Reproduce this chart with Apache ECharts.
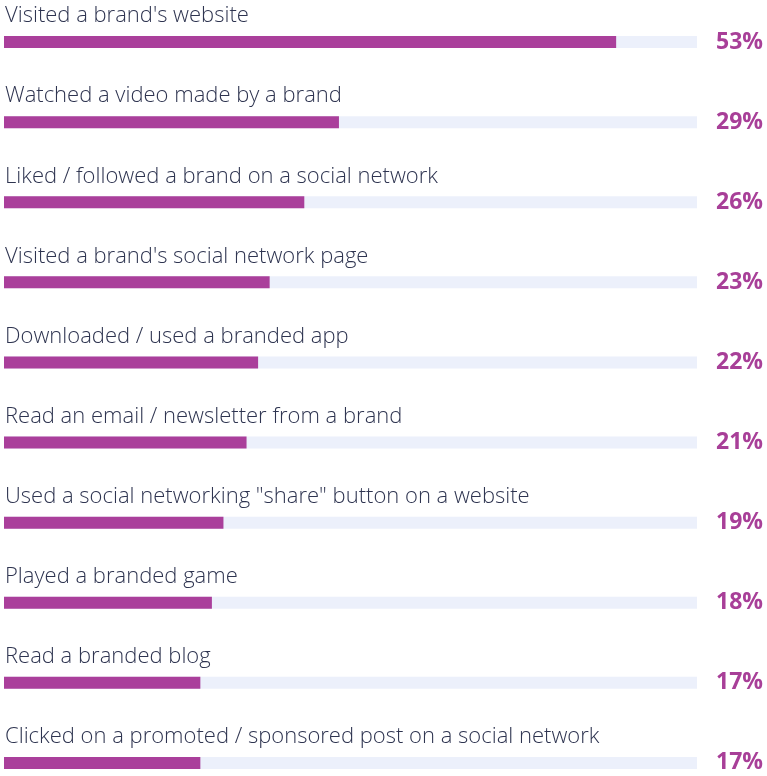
<!DOCTYPE html>
<html><head><meta charset="utf-8">
<style>html,body{margin:0;padding:0;background:#fff}#c{width:767px;height:776px}</style>
<script src="https://cdn.jsdelivr.net/npm/echarts@6/dist/echarts.min.js"></script>
</head><body><div id="c"></div>
<script>
const categories = [
  "Visited a brand's website",
  "Watched a video made by a brand",
  "Liked / followed a brand on a social network",
  "Visited a brand's social network page",
  "Downloaded / used a branded app",
  "Read an email / newsletter from a brand",
  "Used a social networking \"share\" button on a website",
  "Played a branded game",
  "Read a branded blog",
  "Clicked on a promoted / sponsored post on a social network"
];
const values = [53, 29, 26, 23, 22, 21, 19, 18, 17, 17];
const axisMax = 60;
const pctLabels = values.map(v => v + '%');

const chart = echarts.init(document.getElementById('c'));
chart.setOption({
  animation: false,
  grid: { left: 4, right: 70, top: 2, bottom: -27, containLabel: false, outerBoundsMode: 'none' },
  xAxis: { type: 'value', min: 0, max: axisMax, show: false },
  yAxis: [
    { type: 'category', data: categories, inverse: true,
      axisLine: { show: false }, axisTick: { show: false }, splitLine: { show: false },
      axisLabel: { inside: true, margin: 1, align: 'left', verticalAlign: 'bottom',
        padding: [0, 0, 15, 0],
        fontFamily: 'Open Sans', fontWeight: 300, fontSize: 22, color: '#2e3450' } },
    { type: 'category', data: pctLabels, inverse: true, position: 'right',
      axisLine: { show: false }, axisTick: { show: false }, splitLine: { show: false },
      axisLabel: { margin: 66, align: 'right', verticalAlign: 'middle',
        fontFamily: 'Open Sans', fontWeight: 'bold', fontSize: 23, color: '#a83f98' } }
  ],
  series: [{
    type: 'bar', data: values, barWidth: 12, yAxisIndex: 0,
    itemStyle: { color: '#aa3f9b' },
    showBackground: true, backgroundStyle: { color: '#ecf0fb' }
  }]
});
</script></body></html>
